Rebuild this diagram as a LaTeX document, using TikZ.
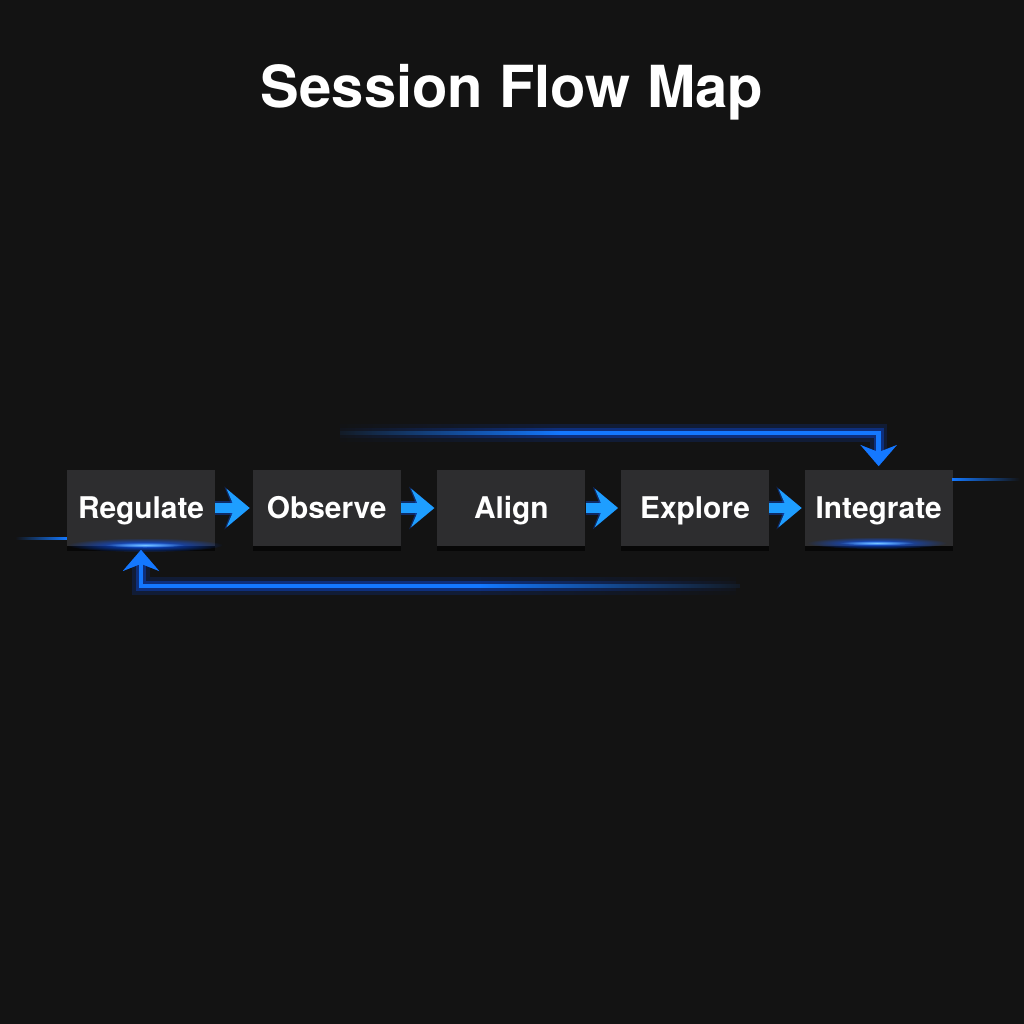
\documentclass[tikz,border=0pt]{standalone}
\usepackage{fontspec}
\setmainfont{TeX Gyre Heros}
\usetikzlibrary{positioning}
\usetikzlibrary{arrows.meta}
\usetikzlibrary{fadings}
\usetikzlibrary{shadows}
\definecolor{bgdark}{RGB}{19,19,19}
\definecolor{boxgrey}{RGB}{45,45,47}
\definecolor{flowblue}{RGB}{30,158,255}
\definecolor{linkblue}{RGB}{20,120,255}
\definecolor{glowblue}{RGB}{10,85,255}
\tikzfading[name=glow fade, inner color=transparent!0, outer color=transparent!100]
\tikzset{stage node/.style={shape=rectangle,
    minimum width=2.96cm, minimum height=1.52cm, inner sep=0pt,
    text height=13pt, text depth=1.6pt,
    fill=boxgrey, text=white,
    font=\bfseries\fontsize{17}{19}\selectfont,
    drop shadow={shadow xshift=0pt, shadow yshift=-3pt, opacity=0.6, fill=black}},
  stage arrow/.style={draw=flowblue, line width=5.2pt, shorten >=1.5pt,
    -{Stealth[length=0.46cm, width=0.76cm, inset=0.16cm]},
    preaction={draw=glowblue, line width=8pt, opacity=0.35, shorten >=1.5pt,
      -{Stealth[length=0.5cm, width=0.84cm, inset=0.16cm]}}},
  feedback/.style={draw=linkblue, line width=2.8pt, shorten >=2pt,
    -{Stealth[length=0.42cm, width=0.72cm, inset=0.14cm]},
    preaction={draw=glowblue, line width=10pt, opacity=0.15, shorten >=2pt},
    preaction={draw=glowblue, line width=5.5pt, opacity=0.35, shorten >=2pt}}}

\begin{document}
\begin{tikzpicture}[x=0.02cm, y=-0.02cm]
    \useasboundingbox (0,0) rectangle (1024,1024);
    \fill[bgdark] (0,0) rectangle (1024,1024);

    \node[text=white, font=\bfseries\fontsize{33}{38}\selectfont] (title) at (512,92) {Session Flow Map};

    \node[stage node] (regulate) at (141,508) {Regulate};
    \node[stage node] (observe) [right = 0.74cm of regulate] {Observe};
    \node[stage node] (align) [right = 0.72cm of observe] {Align};
    \node[stage node] (explore) [right = 0.7cm of align] {Explore};
    \node[stage node] (integrate) [right = 0.7cm of explore] {Integrate};

    % glow under the end boxes
    \fill[glowblue, path fading=glow fade] (145,545) ellipse (78 and 7);
    \fill[flowblue!60!white, path fading=glow fade] (145,545) ellipse (40 and 2.5);
    \fill[glowblue, path fading=glow fade] (877,543) ellipse (70 and 6);
    \fill[flowblue!60!white, path fading=glow fade] (877,543) ellipse (38 and 2.2);

    % thin lines at the sides
    \fill[linkblue, path fading=west] (15,536.5) rectangle (67,539.5);
    \fill[linkblue, path fading=east] (952,477.5) rectangle (1020,480.5);

    \path
    (regulate) edge[stage arrow] (observe)
    (observe) edge[stage arrow] (align)
    (align) edge[stage arrow] (explore)
    (explore) edge[stage arrow] (integrate)
    ;

    \coordinate (topstart) at (340,433);
    \coordinate (botend) at (740,586);
    \draw[feedback] (topstart) -| (integrate.north);
    \draw[feedback, shorten >=0pt, shorten <=2pt, {Stealth[length=0.42cm, width=0.72cm, inset=0.14cm]}-] (regulate.south) |- (botend);

    % fade out the loose ends
    \fill[bgdark, path fading=east] (320,413) rectangle (560,453);
    \fill[bgdark, path fading=west] (480,566) rectangle (760,606);
\end{tikzpicture}
\end{document}
